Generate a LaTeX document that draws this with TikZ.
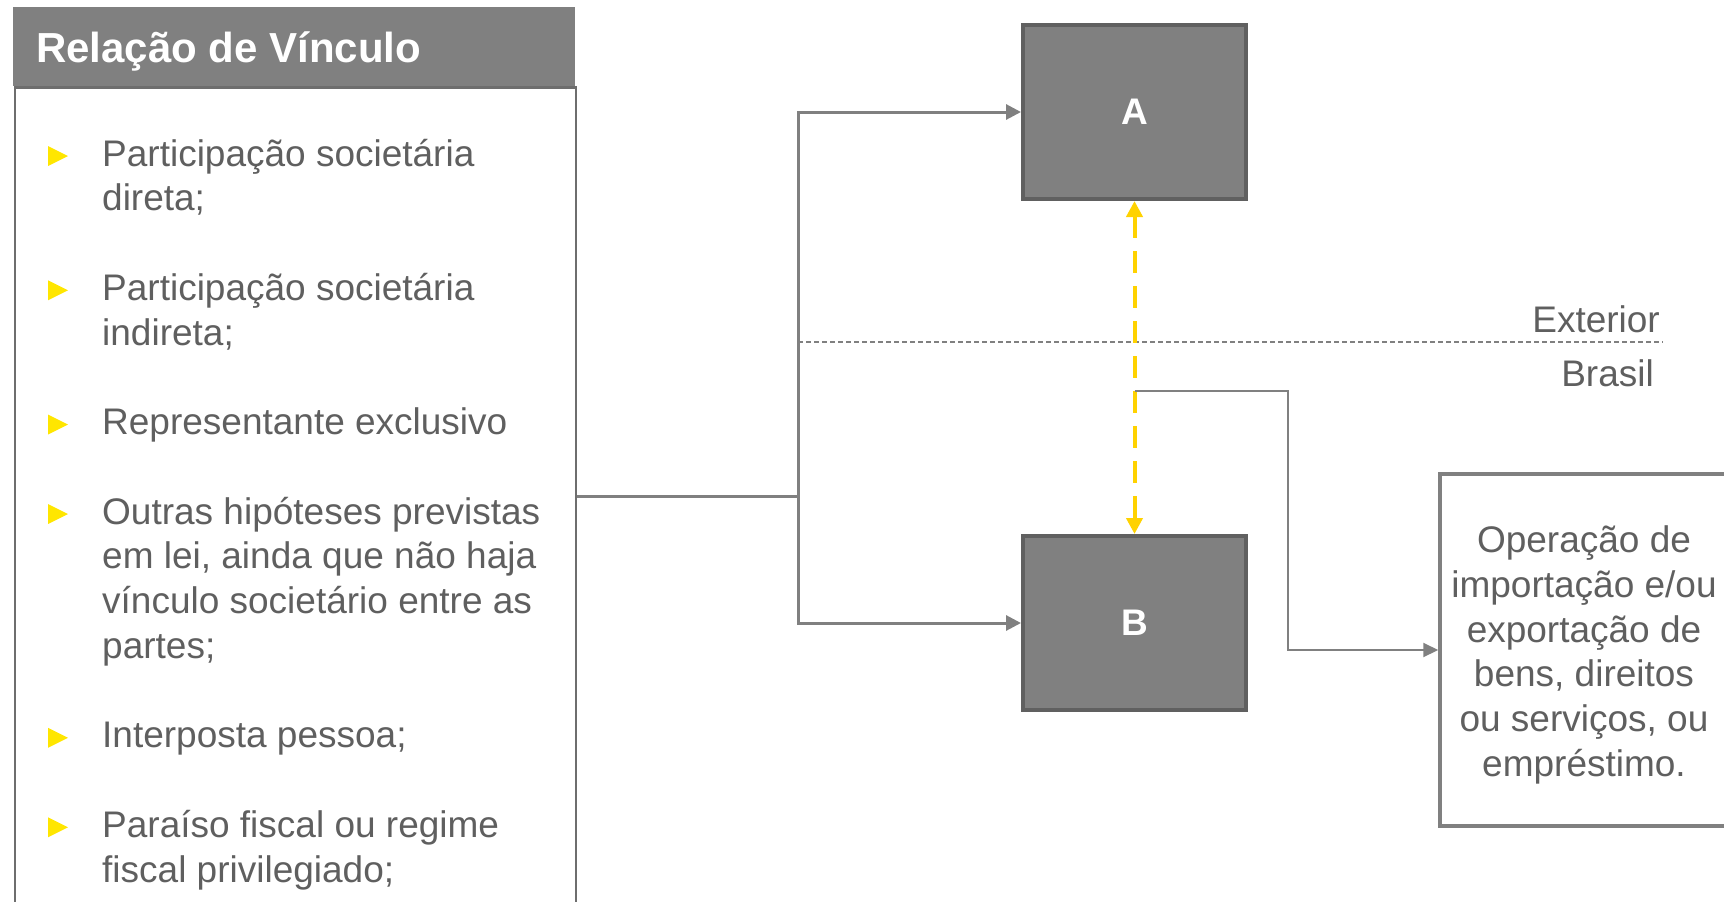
\documentclass[tikz,border=0pt]{standalone}
\usepackage{fontspec}
\setmainfont{Liberation Sans}
\usetikzlibrary{arrows.meta}
\definecolor{txtgray}{RGB}{95,95,95}
\definecolor{hdrgray}{RGB}{128,128,128}
\definecolor{boxfill}{RGB}{128,128,128}
\definecolor{boxedge}{RGB}{96,96,96}
\definecolor{linegray}{RGB}{128,128,128}
\definecolor{panelgray}{RGB}{110,110,110}
\definecolor{bulletyellow}{RGB}{255,230,0}
\definecolor{dashyellow}{RGB}{255,210,0}
\begin{document}
\begin{tikzpicture}[x=1pt,y=-1pt,
  itemtext/.style={anchor=base west, inner sep=0pt, text=txtgray, font=\fontsize{37}{44.75}\selectfont},
  sidetext/.style={anchor=base east, inner sep=0pt, text=txtgray, font=\fontsize{37}{44.75}\selectfont},
  bigbox/.style={fill=boxfill, draw=boxedge, line width=4pt, minimum width=223pt, minimum height=174pt, inner sep=0pt, text=white, font=\bfseries\fontsize{37}{40}\selectfont},
  opbox/.style={fill=white, draw=linegray, line width=3.5pt, minimum width=288pt, minimum height=352pt, inner sep=0pt},
  optext/.style={inner sep=0pt, align=center, text=txtgray, font=\fontsize{37}{44.75}\selectfont},
  conn/.style={draw=linegray, line width=3pt},
  thinconn/.style={draw=linegray, line width=2pt},
  bul/.pic={\fill[bulletyellow] (0,-10) -- (20,0) -- (0,10) -- cycle;}
]
\useasboundingbox (0,0) rectangle (1724,902);
\clip (0,0) rectangle (1724,902);

% left panel
\node[draw=panelgray, line width=2.8pt, minimum width=561pt, minimum height=830pt, anchor=north west, inner sep=0pt] (panel) at (13.5,86) {};
\node[fill=hdrgray, minimum width=562pt, minimum height=79pt, anchor=north west, inner sep=0pt] (hdr) at (13,7) {};
\node[anchor=base west, inner sep=0pt, text=white, font=\bfseries\fontsize{42}{50}\selectfont] (title) at (36,62) {Relação de Vínculo};

% bullets
\pic at (48,156) {bul};
\pic at (48,290.25) {bul};
\pic at (48,424.5) {bul};
\pic at (48,514) {bul};
\pic at (48,737.75) {bul};
\pic at (48,827.25) {bul};

\node[itemtext] (l0) at (102,166) {Participação societária};
\node[itemtext] (l1) at (102,210.75) {direta;};
\node[itemtext] (l3) at (102,300.25) {Participação societária};
\node[itemtext] (l4) at (102,345) {indireta;};
\node[itemtext] (l6) at (102,434.5) {Representante exclusivo};
\node[itemtext] (l8) at (102,524) {Outras hipóteses previstas};
\node[itemtext] (l9) at (102,568.75) {em lei, ainda que não haja};
\node[itemtext] (l10) at (102,613.5) {vínculo societário entre as};
\node[itemtext] (l11) at (102,658.25) {partes;};
\node[itemtext] (l13) at (102,747.75) {Interposta pessoa;};
\node[itemtext] (l15) at (102,837.25) {Paraíso fiscal ou regime};
\node[itemtext] (l16) at (102,882) {fiscal privilegiado;};

% boxes
\node[bigbox] (A) at (1134.5,112) {A};
\node[bigbox] (B) at (1134.5,623) {B};
\node[opbox] (op) at (1584,650) {};
\node[optext] (opt) at (1584,655) {Operação de\\importação e/ou\\exportação de\\bens, direitos\\ou serviços, ou\\empréstimo.};

% border line Exterior / Brasil
\coordinate (hub) at (798,496);
\coordinate (bl) at (hub |- 0,342);
\coordinate (br) at (1663,342);
\draw[draw=linegray, line width=1.5pt, dash pattern=on 5pt off 3pt] (bl) -- (br);
\node[sidetext] (ext) at (1660,332) {Exterior};
\node[sidetext] (bra) at (1654,386) {Brasil};

% connectors
\draw[conn] (panel.east |- hub) -- (hub);
\draw[conn, -{Triangle[length=15pt,width=15pt]}] (hub) |- (A.west);
\draw[conn, -{Triangle[length=15pt,width=15pt]}] (hub) |- (B.west);
\draw[draw=dashyellow, line width=4pt, dash pattern=on 22pt off 13pt, {Triangle[length=16pt,width=16pt]}-{Triangle[length=16pt,width=16pt]}] (A.south) -- (B.north);
\coordinate (tap) at (A.south |- 0,391);
\coordinate (bend) at (1288,391);
\draw[thinconn, -{Triangle[length=15pt,width=14pt]}] (tap) -- (bend) |- (op.west);
\end{tikzpicture}
\end{document}
